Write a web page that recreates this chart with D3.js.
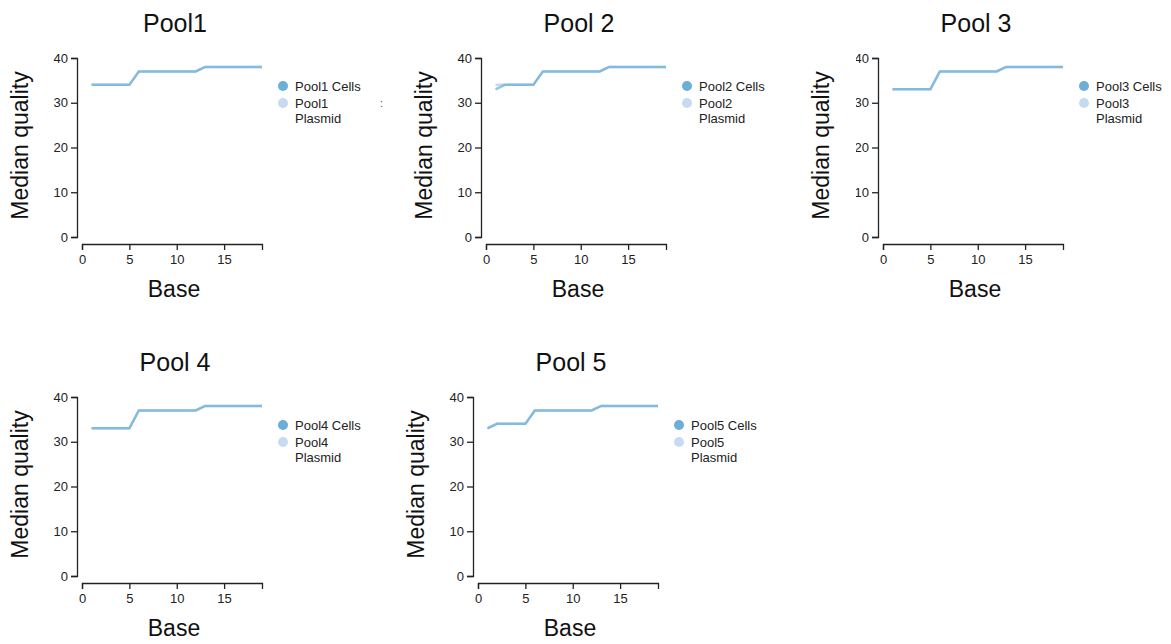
<!DOCTYPE html>
<html>
<head>
<meta charset="utf-8">
<script src="https://cdn.jsdelivr.net/npm/d3@7"></script>
<style>
  html, body { margin: 0; padding: 0; background: #fff; }
  body { width: 1171px; height: 644px; position: relative; overflow: hidden;
         font-family: "Liberation Sans", Arial, Helvetica, sans-serif; }
  svg { position: absolute; overflow: hidden; }
  .axis path, .axis line { stroke: #222; stroke-width: 1.3; }
  .axis text { font-size: 13px; fill: #222; font-family: "Liberation Sans", Arial, sans-serif; }
</style>
</head>
<body>
<script>
// Base positions along the read
const bases = [1, 2, 3, 4, 5, 6, 7, 8, 9, 10, 11, 12, 13, 14, 15, 16, 17, 18, 19];

// Panel titles and legend prefixes
const titles = ["Pool1", "Pool 2", "Pool 3", "Pool 4", "Pool 5"];
const poolKeys = ["Pool1", "Pool2", "Pool3", "Pool4", "Pool5"];

// Median quality per base, cells and plasmid libraries
const pool1Cells   = [34, 34, 34, 34, 34, 37, 37, 37, 37, 37, 37, 37, 38, 38, 38, 38, 38, 38, 38];
const pool1Plasmid = [34, 34, 34, 34, 34, 37, 37, 37, 37, 37, 37, 37, 38, 38, 38, 38, 38, 38, 38];
const pool2Cells   = [33, 34, 34, 34, 34, 37, 37, 37, 37, 37, 37, 37, 38, 38, 38, 38, 38, 38, 38];
const pool2Plasmid = [34, 34, 34, 34, 34, 37, 37, 37, 37, 37, 37, 37, 38, 38, 38, 38, 38, 38, 38];
const pool3Cells   = [33, 33, 33, 33, 33, 37, 37, 37, 37, 37, 37, 37, 38, 38, 38, 38, 38, 38, 38];
const pool3Plasmid = [33, 33, 33, 33, 33, 37, 37, 37, 37, 37, 37, 37, 38, 38, 38, 38, 38, 38, 38];
const pool4Cells   = [33, 33, 33, 33, 33, 37, 37, 37, 37, 37, 37, 37, 38, 38, 38, 38, 38, 38, 38];
const pool4Plasmid = [33, 33, 33, 33, 33, 37, 37, 37, 37, 37, 37, 37, 38, 38, 38, 38, 38, 38, 38];
const pool5Cells   = [33, 34, 34, 34, 34, 37, 37, 37, 37, 37, 37, 37, 38, 38, 38, 38, 38, 38, 38];
const pool5Plasmid = [33, 34, 34, 34, 34, 37, 37, 37, 37, 37, 37, 37, 38, 38, 38, 38, 38, 38, 38];

const cellsSeries   = [pool1Cells, pool2Cells, pool3Cells, pool4Cells, pool5Cells];
const plasmidSeries = [pool1Plasmid, pool2Plasmid, pool3Plasmid, pool4Plasmid, pool5Plasmid];

// Axis ticks
const xTicks = [0, 5, 10, 15];
const yTicks = [0, 10, 20, 30, 40];

// Panel placement: svg left/top edge and plot origin inside it
const panels = [
  { left: 0,   top: 0,   ox: 77, oy: 58 },
  { left: 404, top: 0,   ox: 77, oy: 58 },
  { left: 856, top: 0,   ox: 22, oy: 58 },
  { left: 0,   top: 339, ox: 77, oy: 58 },
  { left: 396, top: 339, ox: 77, oy: 58 }
];

const colorCells = "#6baed6";
const colorPlasmid = "#c6dbef";
const plotW = 180, plotH = 179, xGap = 5, yGap = 7;

const x = d3.scaleLinear().domain([0, 19]).range([xGap, xGap + plotW]);
const y = d3.scaleLinear().domain([0, 40]).range([plotH, 0]);

panels.forEach((p, i) => {
  const svgW = 316, svgH = 305;
  // Plot area: axes and lines (clipped to the panel box)
  const svg = d3.select("body").append("svg")
    .attr("width", svgW).attr("height", svgH)
    .style("left", p.left + "px").style("top", p.top + "px");

  const g = svg.append("g").attr("transform", `translate(${p.ox},${p.oy})`);

  // y axis (detached from x axis)
  g.append("g").attr("class", "axis")
    .call(d3.axisLeft(y).tickValues(yTicks).tickSize(6).tickSizeOuter(6));

  // x axis
  g.append("g").attr("class", "axis")
    .attr("transform", `translate(0,${plotH + yGap})`)
    .call(d3.axisBottom(x).tickValues(xTicks).tickSize(6).tickSizeOuter(6).tickPadding(5));

  const line = d3.line().x((d, j) => x(bases[j])).y(d => y(d));

  g.append("path").datum(plasmidSeries[i])
    .attr("fill", "none").attr("stroke", colorPlasmid).attr("stroke-width", 2.5)
    .attr("d", line);
  g.append("path").datum(cellsSeries[i])
    .attr("fill", "none").attr("stroke", colorCells).attr("stroke-opacity", 0.72)
    .attr("stroke-width", 2.5).attr("d", line);

  // Titles, axis labels and legend on a page-level layer
  const labels = d3.select("body").append("svg")
    .attr("width", 1171).attr("height", 644)
    .style("left", "0px").style("top", "0px")
    .style("pointer-events", "none")
    .append("g")
    .attr("transform", `translate(${p.left + p.ox},${p.top + p.oy})`);

  const cx = xGap + plotW / 2;
  labels.append("text")
    .attr("x", cx + 3).attr("y", -26)
    .attr("text-anchor", "middle")
    .style("font-size", "25px").style("fill", "#111")
    .text(titles[i]);

  labels.append("text")
    .attr("x", cx + 2).attr("y", 239)
    .attr("text-anchor", "middle")
    .style("font-size", "23px").style("fill", "#111")
    .text("Base");

  labels.append("text")
    .attr("transform", `translate(-49,${plotH / 2 - 2}) rotate(-90)`)
    .attr("text-anchor", "middle")
    .style("font-size", "23px").style("fill", "#111")
    .text("Median quality");

  // Legend
  const lx = xGap + plotW + 21;
  const leg = labels.append("g").attr("transform", `translate(${lx},28)`);
  leg.append("circle").attr("cx", 0).attr("cy", 0).attr("r", 5).attr("fill", colorCells);
  leg.append("circle").attr("cx", 0).attr("cy", 17).attr("r", 5).attr("fill", colorPlasmid);
  leg.append("text").attr("x", 12).attr("y", 0).attr("dy", "0.35em")
    .style("font-size", "13px").style("fill", "#222")
    .text(poolKeys[i] + " Cells");
  const t2 = leg.append("text").attr("x", 12).attr("y", 17).attr("dy", "0.35em")
    .style("font-size", "13px").style("fill", "#222");
  t2.append("tspan").attr("x", 12).text(poolKeys[i]);
  t2.append("tspan").attr("x", 12).attr("dy", "1.2em").text("Plasmid");

  if (i === 0) {
    labels.append("text").attr("x", 303).attr("y", 45).attr("dy", "0.35em")
      .style("font-size", "11px").style("fill", "#555").text(":");
  }
});
</script>
</body>
</html>
